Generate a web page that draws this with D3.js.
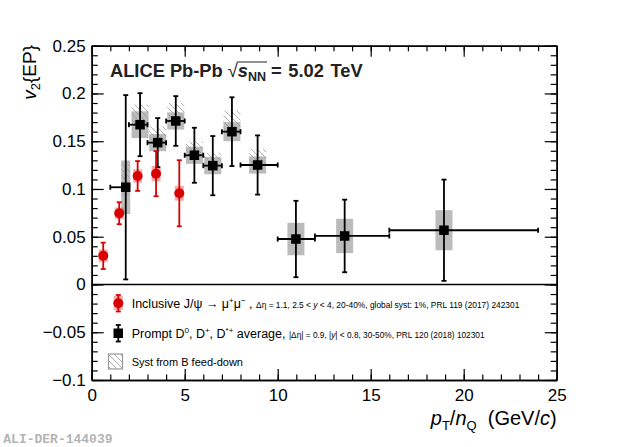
<!DOCTYPE html>
<html>
<head>
<meta charset="utf-8">
<script src="https://cdn.jsdelivr.net/npm/d3@7"></script>
<style>
  body { margin: 0; background: #fff; }
  text { font-family: "Liberation Sans", Arial, Helvetica, sans-serif; }
</style>
</head>
<body>
<div id="chart"></div>
<script>
"use strict";
/*
jpsi* => inclusive J/psi, forward rapidity (red)
d*    => prompt D0, D+, D*+ average (black)
*/
var jpsiPt   = [0.62, 1.48, 2.47, 3.46, 4.71],
    jpsiV2   = [0.030, 0.0746, 0.1136, 0.116, 0.0955],
    jpsiStat = [0.0138, 0.0115, 0.0156, 0.0236, 0.0346],
    jpsiSyst = [0.0066, 0.006, 0.007, 0.008, 0.0077];

var dPt    = [1.83, 2.60, 3.55, 4.52, 5.52, 6.51, 7.54, 8.92, 10.98, 13.6, 18.94],
    dPtLo  = [1, 2, 3, 4, 5, 6, 7, 8, 10, 12, 16],
    dPtHi  = [2, 3, 4, 5, 6, 7, 8, 10, 12, 16, 24],
    dV2    = [0.1018, 0.1673, 0.1485, 0.1712, 0.1353, 0.1244, 0.160, 0.1251, 0.0476, 0.0508, 0.0568],
    dStat  = [0.0965, 0.033, 0.0257, 0.026, 0.0288, 0.031, 0.036, 0.031, 0.040, 0.038, 0.053],
    dSyst  = [0.028, 0.014, 0.009, 0.009, 0.009, 0.009, 0.010, 0.009, 0.017, 0.018, 0.021],
    dFdHi  = [0.027, 0.021, 0.017, 0.019, 0.0143, 0.0136, 0.022, 0.0166, 0, 0, 0],
    dFdLo  = [0.008, 0, 0, 0, 0, 0, 0, 0, 0, 0, 0];

var xTicks = [0, 5, 10, 15, 20, 25],
    xTickLabels = ["0", "5", "10", "15", "20", "25"],
    yTicks = [-0.1, -0.05, 0, 0.05, 0.1, 0.15, 0.2, 0.25],
    yTickLabels = ["\u22120.1", "\u22120.05", "0", "0.05", "0.1", "0.15", "0.2", "0.25"];

var W = 620, H = 447,
    pLeft = 91.7, pRight = 556.7, pTop = 45.7, pBottom = 380,
    red = "#d90000";

var svg = d3.select("#chart").append("svg")
    .attr("width", W).attr("height", H);

var x = d3.scaleLinear().domain([0, 25]).range([pLeft, pRight]),
    y = d3.scaleLinear().domain([-0.1, 0.25]).range([pBottom, pTop]);

// hatch pattern for B feed-down
svg.append("defs").append("pattern")
    .attr("id", "hatch")
    .attr("patternUnits", "userSpaceOnUse")
    .attr("width", 6).attr("height", 6)
  .append("path")
    .attr("d", "M0,0L6,6M-1,5L1,7M5,-1L7,1")
    .attr("stroke", "#999").attr("stroke-width", 0.8);

/* axes, ROOT style: ticks inside on all four sides */
function minorRange(a, b, step) {
    var out = [];
    for (var v = a; v <= b + 1e-9; v += step) out.push(+v.toFixed(4));
    return out;
}
var xMinor = minorRange(0, 25, 1),
    yMinor = minorRange(-0.1, 0.25, 0.01);

function styleAxis(g) {
    g.select(".domain").attr("stroke", "#000").attr("stroke-width", 1.5);
    g.selectAll(".tick line").attr("stroke", "#000").attr("stroke-width", 1.2);
    g.selectAll("text").attr("fill", "#000")
        .style("font-size", "17px")
        .style("font-family", "'Liberation Sans', Arial, sans-serif");
}

svg.append("g").attr("transform", "translate(0," + pBottom + ")")
    .call(d3.axisBottom(x).tickValues(xMinor).tickSize(-5.5).tickSizeOuter(0).tickFormat(""))
    .call(styleAxis);
svg.append("g").attr("transform", "translate(0," + pBottom + ")")
    .call(d3.axisBottom(x).tickValues(xTicks).tickSize(-11).tickSizeOuter(0).tickPadding(8.5)
        .tickFormat(function(d, i) { return xTickLabels[i]; }))
    .call(styleAxis);
svg.append("g").attr("transform", "translate(0," + pTop + ")")
    .call(d3.axisTop(x).tickValues(xMinor).tickSize(-5.5).tickSizeOuter(0).tickFormat(""))
    .call(styleAxis);
svg.append("g").attr("transform", "translate(0," + pTop + ")")
    .call(d3.axisTop(x).tickValues(xTicks).tickSize(-11).tickSizeOuter(0).tickFormat(""))
    .call(styleAxis);

svg.append("g").attr("transform", "translate(" + pLeft + ",0)")
    .call(d3.axisLeft(y).tickValues(yMinor).tickSize(-6).tickSizeOuter(0).tickFormat(""))
    .call(styleAxis);
svg.append("g").attr("transform", "translate(" + pLeft + ",0)")
    .call(d3.axisLeft(y).tickValues(yTicks).tickSize(-12).tickSizeOuter(0).tickPadding(6)
        .tickFormat(function(d, i) { return yTickLabels[i]; }))
    .call(styleAxis);
svg.append("g").attr("transform", "translate(" + pRight + ",0)")
    .call(d3.axisRight(y).tickValues(yMinor).tickSize(-6).tickSizeOuter(0).tickFormat(""))
    .call(styleAxis);
svg.append("g").attr("transform", "translate(" + pRight + ",0)")
    .call(d3.axisRight(y).tickValues(yTicks).tickSize(-12).tickSizeOuter(0).tickFormat(""))
    .call(styleAxis);

// zero line
svg.append("line")
    .attr("x1", pLeft).attr("x2", pRight)
    .attr("y1", y(0)).attr("y2", y(0))
    .attr("stroke", "#000").attr("stroke-width", 1.5);

/* data */
var dIdx = d3.range(dPt.length),
    jIdx = d3.range(jpsiPt.length);

// D syst boxes (first one is narrower)
svg.append("g").selectAll("rect").data(dIdx).join("rect")
    .attr("x", function(i) { return x(dPt[i]) - (i === 0 ? 4.5 : 8.5); })
    .attr("width", function(i) { return i === 0 ? 9 : 17; })
    .attr("y", function(i) { return y(dV2[i] + dSyst[i]); })
    .attr("height", function(i) { return y(dV2[i] - dSyst[i]) - y(dV2[i] + dSyst[i]); })
    .attr("fill", "#bbbbbb");

// J/psi syst boxes
svg.append("g").selectAll("rect").data(jIdx).join("rect")
    .attr("x", function(i) { return x(jpsiPt[i]) - 4.5; })
    .attr("width", 9)
    .attr("y", function(i) { return y(jpsiV2[i] + jpsiSyst[i]); })
    .attr("height", function(i) { return y(jpsiV2[i] - jpsiSyst[i]) - y(jpsiV2[i] + jpsiSyst[i]); })
    .attr("fill", "rgba(225,0,0,0.33)");

// feed-down hatches
svg.append("g").selectAll("rect").data(dIdx.filter(function(i) { return dFdHi[i] > 0; })).join("rect")
    .attr("x", function(i) { return x(dPt[i]) - (i === 0 ? 4.5 : 8.5); })
    .attr("width", function(i) { return i === 0 ? 9 : 17; })
    .attr("y", function(i) { return y(dV2[i] + dFdHi[i]); })
    .attr("height", function(i) { return y(dV2[i] - dFdLo[i]) - y(dV2[i] + dFdHi[i]); })
    .attr("fill", "url(#hatch)");

function errBars(g, xs, ys, es, color, xlo, xhi) {
    var n = xs.length, cap = 2.5;
    for (var i = 0; i < n; i++) {
        var cx = x(xs[i]), t = y(ys[i] + es[i]), b = y(ys[i] - es[i]);
        g.append("line").attr("x1", cx).attr("x2", cx).attr("y1", t).attr("y2", b);
        g.append("line").attr("x1", cx - cap).attr("x2", cx + cap).attr("y1", t).attr("y2", t);
        g.append("line").attr("x1", cx - cap).attr("x2", cx + cap).attr("y1", b).attr("y2", b);
        if (xlo) {
            var cy = y(ys[i]), l = x(xlo[i]), r = x(xhi[i]);
            g.append("line").attr("x1", l).attr("x2", r).attr("y1", cy).attr("y2", cy);
            g.append("line").attr("x1", l).attr("x2", l).attr("y1", cy - cap).attr("y2", cy + cap);
            g.append("line").attr("x1", r).attr("x2", r).attr("y1", cy - cap).attr("y2", cy + cap);
        }
    }
    g.attr("stroke", color).attr("stroke-width", 1.8);
}

errBars(svg.append("g"), dPt, dV2, dStat, "#000", dPtLo, dPtHi);
errBars(svg.append("g"), jpsiPt, jpsiV2, jpsiStat, red);

svg.append("g").selectAll("rect").data(dIdx).join("rect")
    .attr("x", function(i) { return x(dPt[i]) - 4.75; })
    .attr("y", function(i) { return y(dV2[i]) - 4.75; })
    .attr("width", 9.5).attr("height", 9.5)
    .attr("fill", "#000");

svg.append("g").selectAll("circle").data(jIdx).join("circle")
    .attr("cx", function(i) { return x(jpsiPt[i]); })
    .attr("cy", function(i) { return y(jpsiV2[i]); })
    .attr("r", 5)
    .attr("fill", red);

/* title */
var tg = svg.append("g").attr("font-weight", "bold").attr("font-size", 18.3).attr("fill", "#222");
var tx = 110, ty = 77.3;
var t1 = tg.append("text").attr("x", tx).attr("y", ty).text("ALICE Pb-Pb");
tx += t1.node().getComputedTextLength() + 5;
var t2 = tg.append("text").attr("x", tx).attr("y", ty).attr("font-weight", "normal").text("\u221A");
tx += t2.node().getComputedTextLength();
var ovStart = tx;
var t3 = tg.append("text").attr("x", tx).attr("y", ty);
t3.append("tspan").attr("font-style", "italic").text("s");
t3.append("tspan").attr("font-size", 12.5).attr("dy", 3.5).text("NN");
tx += t3.node().getComputedTextLength();
tg.append("line").attr("x1", ovStart - 1).attr("x2", tx + 1).attr("y1", 62).attr("y2", 62)
    .attr("stroke", "#222").attr("stroke-width", 1);
tg.append("text").attr("x", tx + 5).attr("y", ty).attr("word-spacing", 1.5).text("= 5.02 TeV");

/* axis titles */
var yt = svg.append("text")
    .attr("transform", "translate(36,45) rotate(-90)")
    .attr("text-anchor", "end").attr("font-size", 19);
yt.append("tspan").attr("font-style", "italic").text("v");
yt.append("tspan").attr("font-size", 13).attr("dy", 4).text("2");
yt.append("tspan").attr("dy", -4).text("{EP}");

var xt = svg.append("text")
    .attr("x", pRight).attr("y", 425)
    .attr("text-anchor", "end").attr("font-size", 20);
xt.append("tspan").attr("font-style", "italic").text("p");
xt.append("tspan").attr("font-size", 13).attr("dy", 5).text("T");
xt.append("tspan").attr("dy", -5).text("/");
xt.append("tspan").attr("font-style", "italic").text("n");
xt.append("tspan").attr("font-size", 13).attr("dy", 5).text("Q");
xt.append("tspan").attr("dy", -5).text("\u00A0 (GeV/");
xt.append("tspan").attr("font-style", "italic").text("c");
xt.append("tspan").text(")");

/* legend */
var lg = svg.append("g");
// J/psi entry
lg.append("rect").attr("x", 113.8).attr("y", 296).attr("width", 9).attr("height", 14).attr("fill", "rgba(225,0,0,0.33)");
lg.append("line").attr("x1", 118.3).attr("x2", 118.3).attr("y1", 295).attr("y2", 311.5).attr("stroke", red).attr("stroke-width", 1.8);
lg.append("line").attr("x1", 115.8).attr("x2", 120.8).attr("y1", 295).attr("y2", 295).attr("stroke", red).attr("stroke-width", 1.8);
lg.append("line").attr("x1", 115.8).attr("x2", 120.8).attr("y1", 311.5).attr("y2", 311.5).attr("stroke", red).attr("stroke-width", 1.8);
lg.append("circle").attr("cx", 118.3).attr("cy", 303.3).attr("r", 5).attr("fill", red);

var l1 = lg.append("text").attr("x", 131.7).attr("y", 308.3).attr("font-size", 12.5);
l1.append("tspan").text("Inclusive J/\u03C8 \u2192 \u03BC");
l1.append("tspan").attr("font-size", 8).attr("dy", -5).text("+");
l1.append("tspan").attr("dy", 5).text("\u03BC");
l1.append("tspan").attr("font-size", 8).attr("dy", -5).text("\u2212");
l1.append("tspan").attr("dy", 5).text("  , ");
l1.append("tspan").attr("font-size", 8.4).text("\u0394\u03B7 = 1.1, 2.5 < ");
l1.append("tspan").attr("font-size", 8.4).attr("font-style", "italic").text("y");
l1.append("tspan").attr("font-size", 8.4).text(" < 4, 20-40%, global syst: 1%, PRL 119 (2017) 242301");

// D entry
lg.append("line").attr("x1", 118.3).attr("x2", 118.3).attr("y1", 325).attr("y2", 341.5).attr("stroke", "#000").attr("stroke-width", 1.8);
lg.append("line").attr("x1", 115.8).attr("x2", 120.8).attr("y1", 325).attr("y2", 325).attr("stroke", "#000").attr("stroke-width", 1.8);
lg.append("line").attr("x1", 115.8).attr("x2", 120.8).attr("y1", 341.5).attr("y2", 341.5).attr("stroke", "#000").attr("stroke-width", 1.8);
lg.append("rect").attr("x", 113.5).attr("y", 328.5).attr("width", 9.5).attr("height", 9.5).attr("fill", "#000");

var l2 = lg.append("text").attr("x", 131.7).attr("y", 338.3).attr("font-size", 12.5);
l2.append("tspan").text("Prompt D");
l2.append("tspan").attr("font-size", 8).attr("dy", -5).text("0");
l2.append("tspan").attr("dy", 5).text(", D");
l2.append("tspan").attr("font-size", 8).attr("dy", -5).text("+");
l2.append("tspan").attr("dy", 5).text(", D");
l2.append("tspan").attr("font-size", 8).attr("dy", -5).text("*+");
l2.append("tspan").attr("dy", 5).text(" average, ");
l2.append("tspan").attr("font-size", 8.3).text("|\u0394\u03B7| = 0.9, |");
l2.append("tspan").attr("font-size", 8.3).attr("font-style", "italic").text("y");
l2.append("tspan").attr("font-size", 8.3).text("| < 0.8, 30-50%, PRL 120 (2018) 102301");

// feed-down entry
lg.append("rect").attr("x", 108.5).attr("y", 354).attr("width", 14).attr("height", 15)
    .attr("fill", "url(#hatch)").attr("stroke", "#999").attr("stroke-width", 1.2);
lg.append("text").attr("x", 131.7).attr("y", 365.5).attr("font-size", 11).text("Syst from B feed-down");

/* figure id */
svg.append("text").attr("x", 3.3).attr("y", 442.7)
    .style("font-family", "'Liberation Mono', 'Courier New', monospace")
    .style("font-size", "13px").attr("font-weight", "bold").attr("fill", "#b4b4b4")
    .text("ALI-DER-144039");
</script>
</body>
</html>
